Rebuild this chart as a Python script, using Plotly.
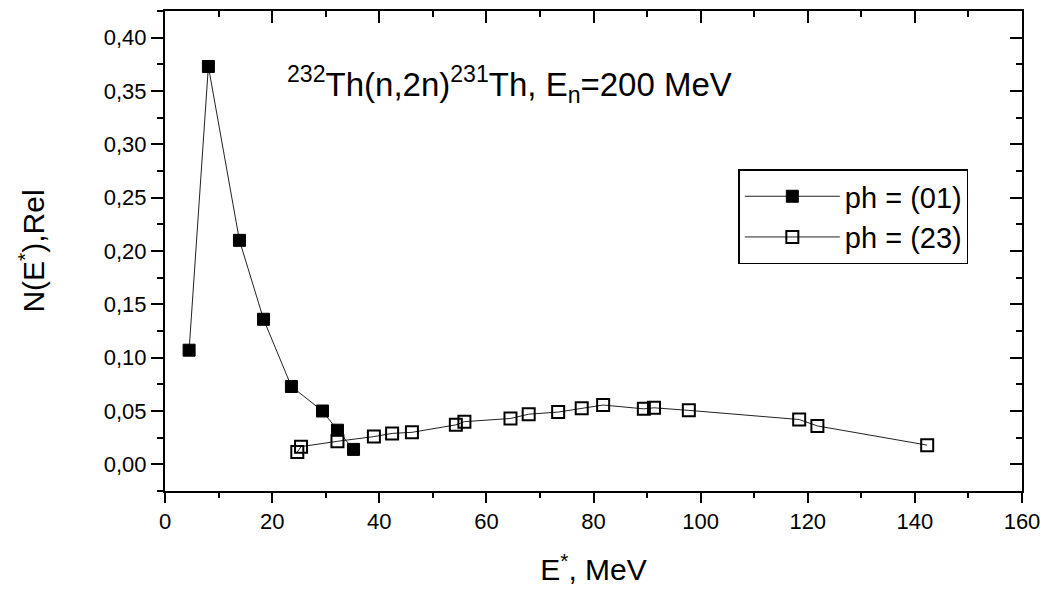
import plotly.graph_objects as go

# Data
x_ph01 = [4.5, 8.1, 13.9, 18.4, 23.6, 29.4, 32.2, 35.2]
y_ph01 = [0.107, 0.373, 0.210, 0.136, 0.073, 0.050, 0.032, 0.014]

x_ph23 = [24.7, 25.4, 32.2, 39.0, 42.4, 46.1, 54.3, 55.9, 64.5, 67.9, 73.4,
          77.8, 81.8, 89.4, 91.3, 97.8, 118.4, 121.8, 142.3]
y_ph23 = [0.0116, 0.0166, 0.0216, 0.026, 0.029, 0.030, 0.037, 0.040, 0.043,
          0.047, 0.049, 0.0525, 0.0556, 0.052, 0.053, 0.0506, 0.042, 0.036, 0.018]

series_names = ["ph = (01)", "ph = (23)"]
x_range = [0, 160]
y_range = [-0.025, 0.425]

FONT = "Arial, Liberation Sans, Helvetica, sans-serif"

fig = go.Figure()
fig.add_trace(go.Scatter(
    x=x_ph01, y=y_ph01, mode="lines+markers", name=series_names[0],
    line=dict(color="#222222", width=1),
    marker=dict(symbol="square", size=12, color="black",
                line=dict(color="black", width=1)),
))
fig.add_trace(go.Scatter(
    x=x_ph23, y=y_ph23, mode="lines+markers", name=series_names[1],
    line=dict(color="#222222", width=1),
    marker=dict(symbol="square-open", size=12, color="black",
                line=dict(color="black", width=2)),
))
# invisible copy so the top / right frame axes (inward ticks) get drawn
fig.add_trace(go.Scatter(
    x=x_ph23, y=y_ph23, xaxis="x2", yaxis="y2", mode="markers",
    marker=dict(opacity=0), showlegend=False, hoverinfo="skip",
))

axis_common = dict(showline=True, linecolor="black", linewidth=2,
                   showgrid=False, zeroline=False, tickcolor="black",
                   tickwidth=2)

def minor(dt, ticks, length):
    return dict(dtick=dt, ticklen=length, ticks=ticks,
                tickcolor="black", tickwidth=2)

# page body has an 8px default margin: figure is placed at (8, 8)
fig.update_layout(
    width=1040, height=584,
    paper_bgcolor="white", plot_bgcolor="white",
    margin=dict(l=157, r=26, t=3, b=101),
    separators=",.",
    font=dict(family=FONT, color="black", size=22),
    showlegend=True,
    legend=dict(x=0.669, y=0.670, xanchor="left", yanchor="top",
                bordercolor="black", borderwidth=1.5, bgcolor="white",
                font=dict(size=29, family=FONT), itemwidth=95,
                tracegroupgap=0),
    xaxis=dict(range=x_range, dtick=20, tick0=0, ticks="outside", ticklen=10,
               minor=minor(10, "outside", 5),
               title=dict(text="E<sup>*</sup>, MeV", font=dict(size=30),
                          standoff=26),
               tickfont=dict(size=22), **axis_common),
    yaxis=dict(range=y_range, dtick=0.05, tick0=0, ticks="outside",
               ticklen=12, tickformat=".2f",
               minor=minor(0.025, "outside", 6),
               title=dict(text="N(E<sup>*</sup>),Rel", font=dict(size=30),
                          standoff=50),
               tickfont=dict(size=22), **axis_common),
    xaxis2=dict(overlaying="x", side="top", anchor="y", range=x_range,
                dtick=20, tick0=0, ticks="inside", ticklen=12,
                showticklabels=False, minor=minor(10, "inside", 6),
                **axis_common),
    yaxis2=dict(overlaying="y", side="right", anchor="x", range=y_range,
                dtick=0.05, tick0=0, ticks="inside", ticklen=12,
                showticklabels=False, minor=minor(0.025, "inside", 6),
                **axis_common),
)

fig.add_annotation(
    text="<sup>232</sup>Th(n,2n)<sup>231</sup>Th, E<sub>n</sub>=200 MeV",
    xref="paper", yref="paper", x=0.140, y=0.846,
    xanchor="left", yanchor="middle", showarrow=False,
    font=dict(size=33, family=FONT, color="black"),
)

fig.write_html("out.html")
